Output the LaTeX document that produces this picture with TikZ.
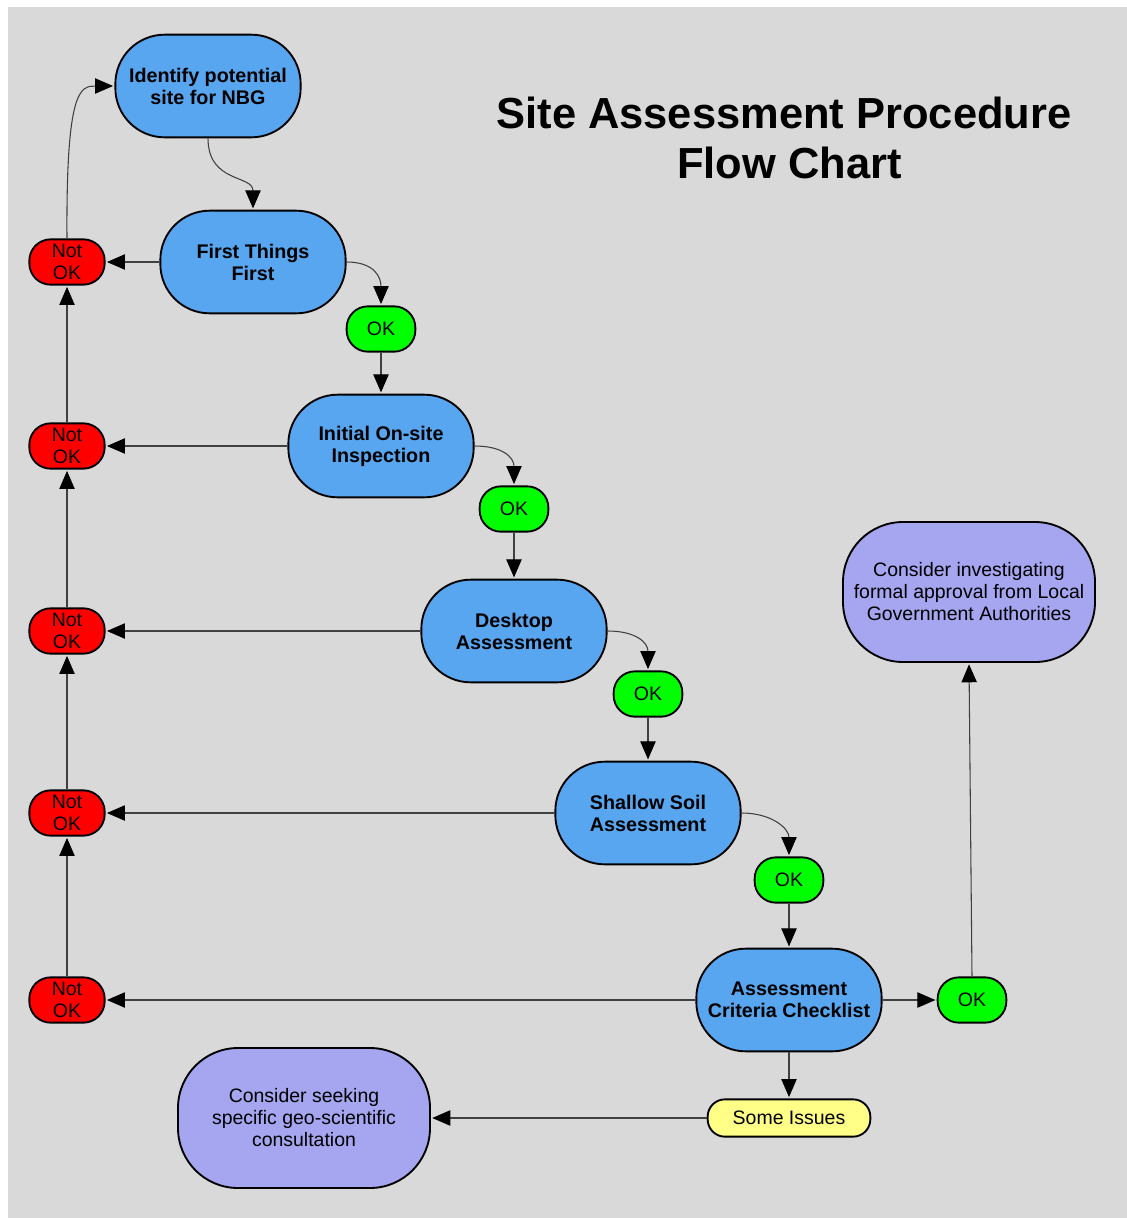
\documentclass[tikz,border=0pt]{standalone}
\usepackage{fontspec}
\setmainfont{Liberation Sans}
\usetikzlibrary{arrows.meta}
\definecolor{bg}{HTML}{D9D9D9}
\definecolor{stepblue}{HTML}{58A5F0}
\definecolor{okgreen}{HTML}{00FF00}
\definecolor{nokred}{HTML}{FF0000}
\definecolor{lav}{HTML}{A5A5F0}
\definecolor{yel}{HTML}{FFFF88}
\definecolor{conncol}{HTML}{404040}
\begin{document}
\begin{tikzpicture}[x=0.75pt,y=-0.75pt,
 base/.style={draw=black, line width=1.4pt, inner sep=1pt, align=center, font=\fontsize{14.6}{16.5}\selectfont},
 stepbox/.style={base, fill=stepblue, minimum width=139pt, minimum height=77pt, rounded corners=37pt, font=\fontsize{14.8}{16.5}\selectfont\bfseries},
 okbox/.style={base, fill=okgreen, minimum width=51.5pt, minimum height=34pt, rounded corners=16pt},
 nokbox/.style={base, fill=nokred, minimum width=56.5pt, minimum height=34pt, rounded corners=16pt},
 notebox/.style={base, fill=lav, minimum width=189pt, minimum height=105pt, rounded corners=45pt},
 issuebox/.style={base, fill=yel, minimum width=122pt, minimum height=28pt, rounded corners=13pt},
 conn/.style={draw=conncol, line width=0.8pt, -{Triangle[length=13.5pt,width=11.5pt,color=black]}, shorten >=1pt}]
\useasboundingbox (0,0) rectangle (1127,1218);
\fill[white] (0,0) rectangle (1127,1218);
\fill[bg] (8,7) rectangle (1127,1218);

\node[font=\fontsize{32.6}{37.5}\selectfont\bfseries, align=center] (title) at (784,138) {Site Assessment Procedure\\\hspace*{8pt}Flow Chart};

\node[stepbox] (id) at (208,86) {Identify potential\\site for NBG};
\node[stepbox] (ft) at (253,262) {First Things\\First};
\node[stepbox] (ini) at (381,446) {Initial On-site\\Inspection};
\node[stepbox] (desk) at (514,631) {Desktop\\Assessment};
\node[stepbox] (soil) at (648,813) {Shallow Soil\\Assessment};
\node[stepbox] (acc) at (789,1000) {Assessment\\Criteria Checklist};

\node[okbox] (ok1) at (381,329) {OK};
\node[okbox] (ok2) at (514,509) {OK};
\node[okbox] (ok3) at (648,694) {OK};
\node[okbox] (ok4) at (789,880) {OK};
\node[okbox] (ok5) at (972,1000) {OK};

\node[nokbox] (n1) at (67,262) {Not\\OK};
\node[nokbox] (n2) at (67,446) {Not\\OK};
\node[nokbox] (n3) at (67,631) {Not\\OK};
\node[nokbox] (n4) at (67,813) {Not\\OK};
\node[nokbox] (n5) at (67,1000) {Not\\OK};

\node[notebox] (ci) at (969,592) {Consider investigating\\formal approval from Local\\Government Authorities};
\node[notebox] (cs) at (304,1118) {Consider seeking\\specific geo-scientific\\consultation};
\node[issuebox] (si) at (789,1118) {Some Issues};

% connectors
\draw[conn] (id.south) .. controls +(0,45) and +(0,-35) .. (ft.north);
\draw[conn] (ft.west) -- (n1.east);
\draw[conn] (n1.north) .. controls (66,90) and (80,86) .. (id.west);
\draw[conn] (ft.east) .. controls +(28,0) and +(0,-28) .. (ok1.north);
\draw[conn] (ok1.south) -- (ini.north);
\draw[conn] (ini.west) -- (n2.east);
\draw[conn] (ini.east) .. controls +(28,0) and +(0,-28) .. (ok2.north);
\draw[conn] (ok2.south) -- (desk.north);
\draw[conn] (desk.west) -- (n3.east);
\draw[conn] (desk.east) .. controls +(28,0) and +(0,-28) .. (ok3.north);
\draw[conn] (ok3.south) -- (soil.north);
\draw[conn] (soil.west) -- (n4.east);
\draw[conn] (soil.east) .. controls +(30,0) and +(0,-28) .. (ok4.north);
\draw[conn] (ok4.south) -- (acc.north);
\draw[conn] (acc.west) -- (n5.east);
\draw[conn] (acc.east) -- (ok5.west);
\draw[conn] (acc.south) -- (si.north);
\draw[conn] (si.west) -- (cs.east);
\draw[conn] (ok5.north) -- (ci.south);
\draw[conn] (n5.north) -- (n4.south);
\draw[conn] (n4.north) -- (n3.south);
\draw[conn] (n3.north) -- (n2.south);
\draw[conn] (n2.north) -- (n1.south);
\end{tikzpicture}
\end{document}
